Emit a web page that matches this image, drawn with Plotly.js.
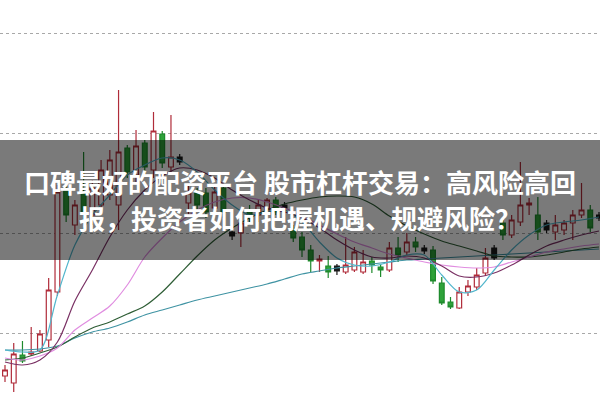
<!DOCTYPE html>
<html>
<head>
<meta charset="utf-8">
<script src="https://cdn.plot.ly/plotly-3.0.1.min.js"></script>
<style>
  html, body { margin: 0; padding: 0; background: #ffffff; }
  #chart { width: 600px; height: 400px; }
</style>
</head>
<body>
<div id="chart"></div>
<script>
// Daily bars: index, OHLC and a style flag ('n' normal, 'k' black marker bar)
const barIndex = [0,1,2,3,4,5,6,7,8,9,10,11,12,13,14,15,16,17,18,19,20,21,22,23,24,25,26,27,28,29,30,31,32,33,34,35,36,37,38,39,40,41,42,43,44,45,46,47,48,49,50,51,52,53,54,55,56,57,58,59,60,61,62,63,64,65,66,67,68];
const openPx  = [2.85,2.50,3.90,3.95,4.10,4.65,7.05,12.15,10.40,12.05,10.90,11.40,11.90,11.40,14.25,12.90,14.50,13.15,14.95,13.30,13.80,11.50,12.05,12.00,11.25,12.25,10.05,10.00,11.15,10.90,11.15,11.65,11.40,10.25,9.80,9.15,8.60,8.35,8.35,8.05,8.15,8.05,8.60,8.30,8.15,9.25,9.05,9.55,9.25,9.15,7.50,6.55,6.25,7.05,7.30,8.00,9.25,10.50,9.90,10.55,11.40,10.90,10.50,10.05,10.15,10.50,10.90,11.15,10.90];
const highPx  = [3.40,4.50,4.60,5.30,5.15,7.75,12.40,12.40,11.65,14.05,12.65,13.65,14.15,17.15,14.40,15.15,14.65,16.05,15.10,15.90,13.95,12.40,12.25,12.25,12.40,12.40,10.25,10.90,11.40,11.65,11.75,11.80,11.55,10.40,10.05,9.40,8.90,8.85,8.45,9.80,9.30,9.15,8.80,8.45,9.55,9.80,10.00,9.80,9.40,9.35,7.80,6.80,7.30,7.65,8.25,9.25,9.40,10.65,10.90,13.55,11.75,11.80,10.65,10.90,10.65,11.15,12.50,11.40,11.05];
const lowPx   = [2.55,2.05,3.50,3.85,4.05,4.30,6.85,10.55,9.90,10.55,10.40,10.90,11.65,10.15,12.75,12.55,12.90,12.75,13.25,13.05,13.40,10.90,11.05,10.75,10.95,10.75,9.65,9.30,10.40,10.55,11.00,10.90,11.05,9.55,8.80,8.05,8.05,7.75,7.90,7.95,8.05,7.95,8.00,7.80,8.05,8.55,8.90,9.05,8.95,7.45,6.40,6.20,6.20,6.85,7.15,7.85,8.65,9.65,9.75,10.35,10.90,9.65,10.00,9.65,9.90,9.65,10.75,10.05,10.60];
const closePx = [3.15,3.95,3.60,4.05,4.95,7.15,12.05,10.90,11.40,10.95,12.25,13.15,13.65,14.05,13.05,14.35,13.30,15.10,13.50,13.80,13.55,12.00,11.40,11.05,12.05,11.05,9.85,10.50,10.75,11.40,11.65,11.05,11.25,9.75,9.15,8.60,8.70,8.05,8.10,8.40,9.05,8.55,8.40,8.15,9.25,8.90,9.55,9.30,9.10,7.60,6.50,6.30,7.05,7.35,7.90,8.75,8.75,9.90,10.65,11.40,11.50,10.05,10.15,10.40,10.50,10.90,11.15,10.25,10.75];
const barStyle = ['n','n','n','n','n','n','n','n','n','n','n','n','n','n','n','n','n','n','n','n','k','n','n','n','n','n','k','n','n','n','n','n','k','n','n','n','n','n','k','n','n','n','n','n','n','n','n','n','k','n','n','n','n','n','n','n','k','n','n','n','n','n','k','n','n','n','n','n','k'];

// Moving averages, sampled every second bar
const maIndex = [0,2,4,6,8,10,12,14,16,18,20,22,24,26,28,30,32,34,36,38,40,42,44,46,48,50,52,54,56,58,60,62,64,66,68];
const ma5  = [4.15,4.05,4.15,6.90,9.40,10.90,11.90,12.90,13.40,13.75,13.65,13.05,12.15,11.40,10.90,11.05,11.15,10.55,9.55,8.75,8.40,8.35,8.55,8.90,8.90,7.90,7.05,7.15,8.15,9.15,9.90,10.40,10.55,10.65,10.80];
const ma10 = [3.55,3.40,3.65,4.55,6.60,8.15,9.80,11.15,12.15,12.85,13.25,13.15,12.75,12.15,11.65,11.25,11.05,10.75,10.25,9.65,9.15,8.80,8.75,8.85,8.75,8.35,7.85,7.80,8.00,8.40,8.90,9.35,9.65,9.90,10.10];
const ma20 = [3.75,3.65,3.85,4.25,5.15,5.75,6.35,7.40,8.80,9.75,10.55,11.15,11.55,11.75,11.75,11.55,11.25,10.85,10.40,9.95,9.55,9.25,8.95,8.75,8.55,8.40,8.30,8.25,8.30,8.55,8.80,9.05,9.20,9.35,9.45];
const ma30 = [3.65,3.75,4.00,4.30,4.80,5.25,5.55,5.95,6.35,7.05,7.95,8.85,9.65,10.25,10.75,11.15,11.45,11.65,11.80,11.85,11.80,11.45,10.85,10.35,9.95,9.60,9.35,9.10,8.85,8.80,8.80,8.90,9.05,9.20,9.30];
const ma60 = [4.15,4.15,4.20,4.35,4.75,5.05,5.25,5.55,5.90,6.15,6.40,6.65,6.85,7.05,7.25,7.45,7.70,7.95,8.10,8.25,8.35,8.45,8.55,8.65,8.70,8.75,8.80,8.85,8.90,8.95,9.00,9.05,9.10,9.15,9.20];

const headline = ['口碑最好的配资平台 股市杠杆交易：高风险高回', '报，投资者如何把握机遇、规避风险？'];

function pick(arr, flag) {
  return arr.filter((_, i) => barStyle[i] === flag);
}

function candleTrace(flag, inc, dec) {
  return {
    type: 'candlestick',
    x: pick(barIndex, flag),
    open: pick(openPx, flag),
    high: pick(highPx, flag),
    low: pick(lowPx, flag),
    close: pick(closePx, flag),
    increasing: inc,
    decreasing: dec,
    whiskerwidth: 0,
    hoverinfo: 'skip',
    showlegend: false
  };
}

const normalBars = candleTrace('n',
  { line: { color: '#b02c3a', width: 1.2 }, fillcolor: '#ffffff' },
  { line: { color: '#1e8a2c', width: 1.2 }, fillcolor: '#2ea23a' });
const markerBars = candleTrace('k',
  { line: { color: '#1a1a1a', width: 1.2 }, fillcolor: '#1a1a1a' },
  { line: { color: '#1a1a1a', width: 1.2 }, fillcolor: '#1a1a1a' });

function maTrace(values, color) {
  return {
    type: 'scatter', mode: 'lines',
    x: maIndex, y: values,
    line: { color: color, width: 1.2, shape: 'spline', smoothing: 0.9 },
    hoverinfo: 'skip', showlegend: false
  };
}

const traces = [
  normalBars, markerBars,
  maTrace(ma60, '#3f93a3'),
  maTrace(ma30, '#2f5e36'),
  maTrace(ma20, '#e08de0'),
  maTrace(ma10, '#7a3164'),
  maTrace(ma5,  '#52b6cc')
];

const layout = {
  width: 600, height: 400,
  margin: { l: 0, r: 0, t: 0, b: 0 },
  paper_bgcolor: '#ffffff', plot_bgcolor: '#ffffff',
  showlegend: false,
  boxgap: 0.22,
  xaxis: {
    range: [-0.572, 68.115],
    rangeslider: { visible: false },
    showgrid: false, zeroline: false, showticklabels: false, ticks: '', showline: false
  },
  yaxis: {
    range: [1.65, 21.65],
    tick0: 5, dtick: 5,
    showgrid: true, gridcolor: '#a8a8a8', griddash: 'dot', gridwidth: 1,
    zeroline: false, showticklabels: false, ticks: '', showline: false
  },
  shapes: [{
    type: 'rect', layer: 'above', xref: 'paper', yref: 'paper',
    x0: 0, x1: 1, y0: 0.35, y1: 0.65,
    fillcolor: 'rgba(0,0,0,0.52)', line: { width: 0 }
  }],
  annotations: headline.map((t, k) => ({
    text: t, xref: 'paper', yref: 'paper',
    x: 0.5, y: k === 0 ? 0.545 : 0.4575,
    xanchor: 'center', yanchor: 'middle', showarrow: false,
    font: { family: 'Noto Sans CJK SC, sans-serif', size: 26, color: '#ffffff', weight: 700 }
  }))
};

Plotly.newPlot('chart', traces, layout, { staticPlot: true, displayModeBar: false });
</script>
</body>
</html>
